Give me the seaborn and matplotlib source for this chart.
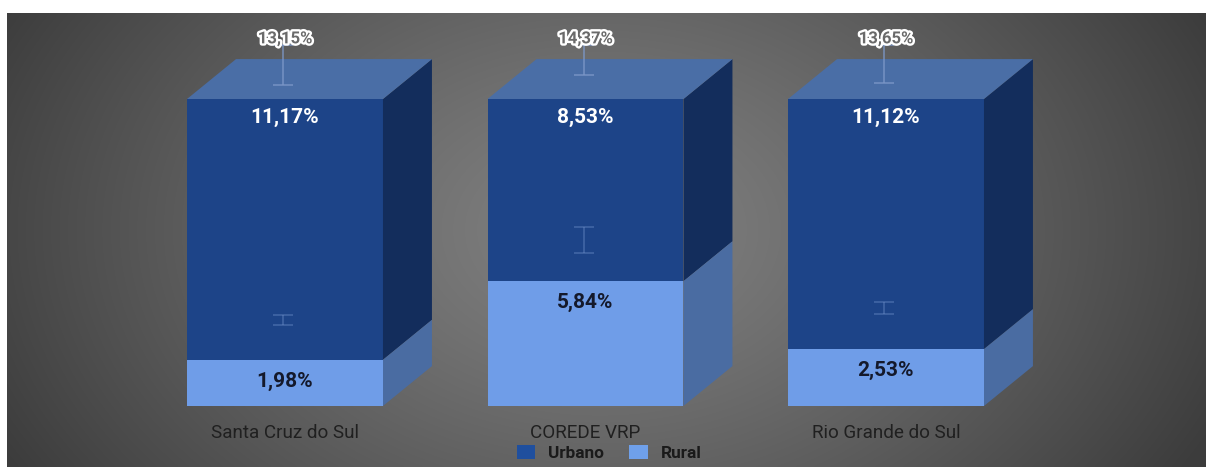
import numpy as np
import pandas as pd
import matplotlib
matplotlib.use("Agg")
import matplotlib.pyplot as plt
from matplotlib.patches import Polygon, Patch
import matplotlib.patheffects as pe
import seaborn as sns

# --- data -------------------------------------------------------------
categorias = ["Santa Cruz do Sul", "COREDE VRP", "Rio Grande do Sul"]
urbano = [11.17, 8.53, 11.12]
rural = [1.98, 5.84, 2.53]
total = [13.15, 14.37, 13.65]

# uncertainty whiskers, in percent of the stacked column height
erro_meio_centro = [28.0, 54.1, 31.9]
erro_meio_semi = [1.6, 4.2, 2.0]
erro_total_base = [104.6, 107.8, 105.2]
erro_total_topo = [117.5, 117.5, 117.5]

# --- style ------------------------------------------------------------
sns.set_theme(style="white")
plt.rcParams["font.family"] = ["Roboto", "DejaVu Sans"]

COR_URB = "#1d4488"
COR_URB_LADO = "#132d5c"
COR_TOPO = "#4a6ea6"
COR_RUR = "#6f9de8"
COR_RUR_LADO = "#4a6ca2"

W = 1206
H = 467
fig = plt.figure(figsize=(W / 100, H / 100), dpi=100)
fig.patch.set_facecolor("white")

# radial grey backdrop
bg = fig.add_axes([7 / W, 0, 1 - 7 / W, 1 - 13 / H])
xx, yy = np.meshgrid(np.linspace(7, W, 600), np.linspace(13, H, 240))
r = np.sqrt(((xx - 600) / 600) ** 2 + ((yy - 230) / 420) ** 2)
val = np.clip(128 - 58 * r ** 1.25, 60, 132) / 255.0
bg.imshow(np.dstack([val, val, val]), aspect="auto", extent=[0, 1, 0, 1],
          interpolation="bilinear")
bg.set_axis_off()

ax = fig.add_axes([0, 0, 1, 1])
ax.set_facecolor("none")

largura = 0.652
dx = 0.163
dy = 13.0

df = pd.DataFrame({
    "categoria": categorias,
    "urbano": urbano,
    "rural": rural,
    "total": total,
})
df["rural_pct"] = df["rural"] / df["total"] * 100
df["cheio"] = 100.0

sns.barplot(data=df, x="categoria", y="cheio", color=COR_URB, saturation=1,
            width=largura, linewidth=0, ax=ax, zorder=2)
sns.barplot(data=df, x="categoria", y="rural_pct", color=COR_RUR, saturation=1,
            width=largura, linewidth=0, ax=ax, zorder=3)

for i, row in df.iterrows():
    x0 = i - largura / 2
    x1 = i + largura / 2
    rp = row["rural_pct"]
    # side faces
    ax.add_patch(Polygon([(x1, rp), (x1 + dx, rp + dy), (x1 + dx, 100 + dy), (x1, 100)],
                         closed=True, facecolor=COR_URB_LADO, lw=0, zorder=2))
    ax.add_patch(Polygon([(x1, 0), (x1 + dx, dy), (x1 + dx, rp + dy), (x1, rp)],
                         closed=True, facecolor=COR_RUR_LADO, lw=0, zorder=2))
    # top face
    ax.add_patch(Polygon([(x0, 100), (x1, 100), (x1 + dx, 100 + dy), (x0 + dx, 100 + dy)],
                         closed=True, facecolor=COR_TOPO, lw=0, zorder=2))

    # whiskers
    ax.errorbar(i - 0.005, erro_meio_centro[i], yerr=erro_meio_semi[i], fmt="none",
                ecolor="#6f8fc8", elinewidth=1.2, capsize=7, capthick=1.2,
                alpha=0.45, zorder=4)
    base = erro_total_base[i]
    topo = erro_total_topo[i]
    ax.errorbar(i - 0.005, topo, yerr=[[topo - base], [0]], fmt="none",
                ecolor="#7c98c8", elinewidth=1.2, capsize=7, capthick=1.2,
                alpha=0.8, zorder=4)

    # value labels
    ax.annotate(f"{row['urbano']:.2f}%".replace(".", ","), (i, 100),
                xytext=(0, -13), textcoords="offset points", ha="center", va="center",
                color="white", fontsize=15, fontweight="bold", zorder=5)
    ax.annotate(f"{row['rural']:.2f}%".replace(".", ","), (i, rp),
                xytext=(0, -15.5), textcoords="offset points", ha="center", va="center",
                color="#14192b", fontsize=15, fontweight="bold", zorder=5)
    ax.text(i, 119.6, f"{row['total']:.2f}%".replace(".", ","), ha="center", va="center",
            color="#6a6a6a", fontsize=12, fontweight="bold", zorder=6,
            path_effects=[pe.withStroke(linewidth=3.4, foreground="white")])

    # category label
    ax.text(i, -8.8, row["categoria"], ha="center", va="center",
            color="#202020", fontsize=13.6, zorder=5)

ax.set_xlim((0 - 285) / 300.5, (W - 285) / 300.5)
ax.set_ylim((406 - H) / 3.07, 406 / 3.07)
ax.set_axis_off()

handles = [Patch(facecolor="#1f4f9e", edgecolor="none", label="Urbano"),
           Patch(facecolor="#6fa0ea", edgecolor="none", label="Rural")]
leg = fig.legend(handles=handles, loc="center", bbox_to_anchor=(609 / W, 1 - 453 / H),
                 ncol=2, frameon=False, handlelength=1.05, handleheight=0.9,
                 columnspacing=1.5, handletextpad=0.75, borderpad=0,
                 prop={"family": "Roboto", "weight": "bold", "size": 12.4})
for t in leg.get_texts():
    t.set_color("#1a1a1a")

fig.savefig("out.png", dpi=100, facecolor=fig.get_facecolor())
